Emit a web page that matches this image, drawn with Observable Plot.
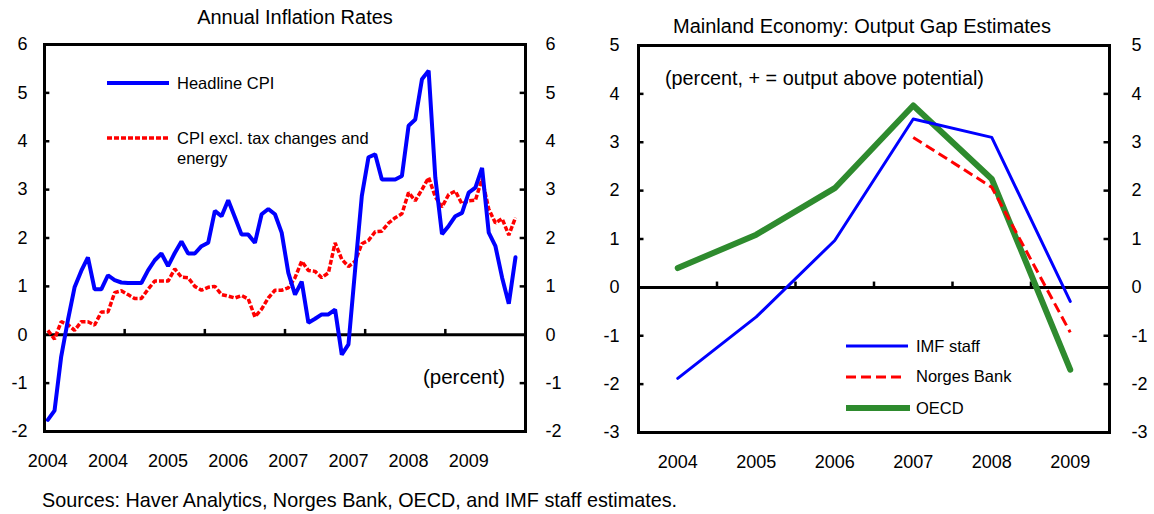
<!DOCTYPE html>
<html><head><meta charset="utf-8">
<script src="https://cdn.jsdelivr.net/npm/d3@7"></script>
<script src="https://cdn.jsdelivr.net/npm/@observablehq/plot@0.6"></script>
<style>
body{margin:0;background:#fff;font-family:"Liberation Sans",Arial,sans-serif;}
#root{position:relative;width:1154px;height:514px;overflow:hidden;background:#fff;}
.abs{position:absolute;white-space:nowrap;color:#000;}
.plot{position:absolute;top:0;}
</style></head><body><div id="root"></div>
<script>
// ---------- Left panel data: monthly, Jan 2004 - Nov 2009 ----------
const headlineCPI = [
 -1.76,-1.57,-0.45,0.30,0.98,1.32,1.60,0.94,0.94,1.23,1.13,1.08,
 1.07,1.07,1.07,1.33,1.54,1.68,1.42,1.69,1.93,1.68,1.68,1.83,
 1.90,2.56,2.45,2.78,2.43,2.07,2.07,1.90,2.49,2.60,2.49,2.11,
 1.28,0.83,1.10,0.25,0.33,0.42,0.42,0.52,-0.41,-0.20,1.35,2.87,
 3.67,3.73,3.21,3.21,3.21,3.28,4.32,4.45,5.28,5.46,3.25,2.08,
 2.25,2.45,2.52,2.94,3.04,3.45,2.11,1.83,1.18,0.64,1.60
];
const cpiExclTaxEnergy = [
 0.09,-0.09,0.27,0.21,0.09,0.27,0.27,0.20,0.47,0.47,0.87,0.91,
 0.83,0.75,0.75,0.94,1.11,1.11,1.11,1.36,1.19,1.18,1.00,0.92,
 0.98,1.00,0.83,0.80,0.76,0.81,0.74,0.37,0.53,0.76,0.92,0.92,
 0.97,1.18,1.52,1.33,1.31,1.18,1.28,1.90,1.56,1.41,1.52,1.88,
 1.95,2.13,2.14,2.31,2.42,2.50,2.94,2.77,3.00,3.25,2.85,2.64,
 2.90,2.97,2.70,2.77,2.78,3.22,2.60,2.31,2.40,2.06,2.42
];
const months = d3.utcMonth.range(new Date(Date.UTC(2004,0,1)), new Date(Date.UTC(2009,11,1)));
const labelEvery = 9;          // category label interval
const leftYTicks = [-2,-1,0,1,2,3,4,5,6];

// ---------- Right panel data: annual ----------
const years = [2004,2005,2006,2007,2008,2009];
const imfStaff   = [-1.88,-0.61,0.97,3.48,3.10,-0.29];
const norgesBank = [null,null,null,3.10,2.07,-0.93];
const oecd       = [0.40,1.09,2.05,3.76,2.24,-1.70];
const rightYTicks = [-3,-2,-1,0,1,2,3,4,5];

const FONT = "Liberation Sans, Arial, sans-serif";
const fmt = d => String(d);

const labelIdx = d3.range(0, months.length, labelEvery);
const yearBoundaries = d3.range(11.5, 71, 12);
const leftHead = headlineCPI.map((v,i)=>({i, v}));
const leftCore = cpiExclTaxEnergy.map((v,i)=>({i, v}));

const left = Plot.plot({
  width: 577, height: 480,
  marginLeft: 44, marginRight: 52, marginTop: 44, marginBottom: 49,
  style: {fontFamily: FONT, fontSize: "18px", background: "transparent", color:"#000"},
  x: {domain: [-0.5, 71.5], axis: null},
  y: {domain: [-2, 6], axis: null},
  marks: [
    Plot.ruleY([0], {stroke: "#000", strokeWidth: 3}),
    Plot.ruleX(yearBoundaries, {y1: 0, y2: 0.11, stroke: "#000", strokeWidth: 2.5}),
    Plot.ruleY(leftYTicks.filter(d => d !== 0 && d !== -2 && d !== 6), {x1: -0.5, x2: 0.3, stroke: "#000", strokeWidth: 2.5}),
    Plot.ruleY(leftYTicks.filter(d => d !== 0 && d !== -2 && d !== 6), {x1: 70.7, x2: 71.5, stroke: "#000", strokeWidth: 2.5}),
    Plot.axisX(labelIdx, {anchor: "bottom", tickSize: 0, tickPadding: 23, label: null,
      tickFormat: i => String(months[i].getUTCFullYear()), fontSize: 18}),
    Plot.axisY(leftYTicks, {anchor: "left", tickSize: 0, tickPadding: 17, label: null, tickFormat: fmt, fontSize: 18}),
    Plot.axisY(leftYTicks, {anchor: "right", tickSize: 0, tickPadding: 20, label: null, tickFormat: fmt, fontSize: 18}),
    Plot.line(leftCore, {x: "i", y: "v", stroke: "#ff0000", strokeWidth: 3.5, strokeDasharray: "5,2", strokeLinecap: "butt", strokeLinejoin: "miter"}),
    Plot.line(leftHead, {x: "i", y: "v", stroke: "#0000ff", strokeWidth: 4, strokeLinejoin: "miter"}),
    Plot.frame({stroke: "#000", strokeWidth: 3})
  ]
});

const imfData = years.map((y,i)=>({y, v: imfStaff[i]}));
const nbData = years.map((y,i)=>({y, v: norgesBank[i]})).filter(d => d.v != null);
const oecdData = years.map((y,i)=>({y, v: oecd[i]}));

const right = Plot.plot({
  width: 577, height: 480,
  marginLeft: 61, marginRight: 45, marginTop: 45, marginBottom: 48,
  style: {fontFamily: FONT, fontSize: "18px", background: "transparent", color:"#000"},
  x: {domain: [years[0]-0.5, years[years.length-1]+0.5], axis: null},
  y: {domain: [-3, 5], axis: null},
  marks: [
    Plot.ruleY([0], {stroke: "#000", strokeWidth: 3}),
    Plot.ruleX(years.slice(0,-1).map(y => y + 0.5), {y1: 0, y2: 0.11, stroke: "#000", strokeWidth: 2.5}),
    Plot.ruleY(rightYTicks.filter(d => d !== 0 && d !== -3 && d !== 5), {x1: years[0]-0.5, x2: years[0]-0.43, stroke: "#000", strokeWidth: 2.5}),
    Plot.ruleY(rightYTicks.filter(d => d !== 0 && d !== -3 && d !== 5), {x1: years[5]+0.43, x2: years[5]+0.5, stroke: "#000", strokeWidth: 2.5}),
    Plot.axisX(years, {anchor: "bottom", tickSize: 0, tickPadding: 23, label: null, tickFormat: fmt, fontSize: 18}),
    Plot.axisY(rightYTicks, {anchor: "left", tickSize: 0, tickPadding: 19, label: null, tickFormat: fmt, fontSize: 18}),
    Plot.axisY(rightYTicks, {anchor: "right", tickSize: 0, tickPadding: 22, label: null, tickFormat: fmt, fontSize: 18}),
    Plot.line(oecdData, {x: "y", y: "v", stroke: "#2e8b2e", strokeWidth: 6}),
    Plot.line(imfData, {x: "y", y: "v", stroke: "#0000ff", strokeWidth: 3}),
    Plot.line(nbData, {x: "y", y: "v", stroke: "#ff0000", strokeWidth: 3, strokeDasharray: "10,5", strokeLinecap: "butt"}),
    Plot.frame({stroke: "#000", strokeWidth: 3})
  ]
});

const root = document.getElementById("root");
left.classList.add("plot"); left.style.left = "0px";
right.classList.add("plot"); right.style.left = "577px";
root.appendChild(left); root.appendChild(right);

function text(str, x, cy, fs, anchor) {
  const d = document.createElement("div");
  d.className = "abs";
  d.textContent = str;
  d.style.fontSize = fs + "px";
  d.style.lineHeight = fs + "px";
  d.style.top = (cy - fs/2) + "px";
  if (anchor === "middle") { d.style.left = x + "px"; d.style.transform = "translateX(-50%)"; }
  else if (anchor === "end") { d.style.right = (1154 - x) + "px"; }
  else d.style.left = x + "px";
  root.appendChild(d);
}
function swatch(x1, x2, y, color, w, dash) {
  const ns = "http://www.w3.org/2000/svg";
  const s = document.createElementNS(ns, "svg");
  s.setAttribute("width", x2 - x1); s.setAttribute("height", 12);
  s.style.position = "absolute"; s.style.left = x1 + "px"; s.style.top = (y - 6) + "px";
  const l = document.createElementNS(ns, "line");
  l.setAttribute("x1", 0); l.setAttribute("x2", x2 - x1); l.setAttribute("y1", 6); l.setAttribute("y2", 6);
  l.setAttribute("stroke", color); l.setAttribute("stroke-width", w);
  if (dash) l.setAttribute("stroke-dasharray", dash);
  s.appendChild(l); root.appendChild(s);
}

text("Annual Inflation Rates", 295, 17, 20, "middle");
text("Mainland Economy: Output Gap Estimates", 862, 26, 20, "middle");

swatch(107, 169, 83, "#0000ff", 4);
text("Headline CPI", 177, 83, 16.5);
swatch(107, 169, 137.5, "#ff0000", 3.5, "5,2");
text("CPI excl. tax changes and", 177, 138, 16.5);
text("energy", 177, 158, 16.5);
text("(percent)", 505, 377.5, 20.5, "end");

text("(percent, + = output above potential)", 665, 78.5, 19.8);
swatch(846, 908, 346, "#0000ff", 3);
text("IMF staff", 916, 346, 16.5);
swatch(846, 902, 376.5, "#ff0000", 3, "10,5");
text("Norges Bank", 916, 376.5, 16.5);
swatch(846, 910, 408, "#2e8b2e", 6);
text("OECD", 916, 408, 16.5);

text("Sources: Haver Analytics, Norges Bank, OECD, and IMF staff estimates.", 42, 501, 19.8);
</script></body></html>
